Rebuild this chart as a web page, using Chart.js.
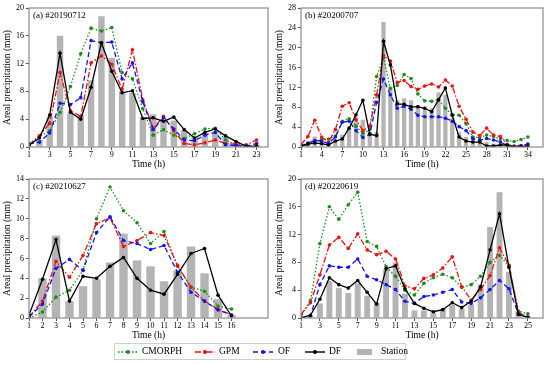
<!DOCTYPE html>
<html>
<head>
<meta charset="utf-8">
<script src="https://cdn.jsdelivr.net/npm/chart.js@4.4.1/dist/chart.umd.min.js"></script>
<style>
    body { margin: 0; background: #fff; }
    #wrap { position: relative; width: 550px; height: 365px; overflow: hidden; font-family: "Liberation Serif", "Times New Roman", serif; }
    canvas { position: absolute; }
    #legend { position: absolute; left: 114px; top: 343px; width: 292px; height: 17px; border: 1px solid #cfcfcf; box-sizing: border-box; font-size: 9.5px; color: #000; }
    #legend span { position: absolute; top: 0; line-height: 15px; }
    #legend svg { position: absolute; top: 4px; }
</style>
</head>
<body>
<div id="wrap">
    <canvas id="chartA" width="275" height="172" style="left:0;top:0"></canvas>
    <canvas id="chartB" width="275" height="172" style="left:272px;top:0"></canvas>
    <canvas id="chartC" width="275" height="172" style="left:0;top:171px"></canvas>
    <canvas id="chartD" width="275" height="172" style="left:272px;top:171px"></canvas>

    <div id="legend">
        <svg width="20" height="8" style="left:3px"><line x1="0" y1="4" x2="20" y2="4" stroke="#1c8c1c" stroke-width="1.4" stroke-dasharray="1.5,2"/><circle cx="10" cy="4" r="2" fill="#1c8c1c"/></svg>
        <span style="left:27px">CMORPH</span>
        <svg width="20" height="8" style="left:80px"><line x1="0" y1="4" x2="20" y2="4" stroke="#f01010" stroke-width="1.4" stroke-dasharray="6,2,1.5,2"/><circle cx="10" cy="4" r="2" fill="#f01010"/></svg>
        <span style="left:104px">GPM</span>
        <svg width="20" height="8" style="left:138px"><line x1="0" y1="4" x2="20" y2="4" stroke="#1414f0" stroke-width="1.4" stroke-dasharray="5,3"/><circle cx="10" cy="4" r="2" fill="#1414f0"/></svg>
        <span style="left:163px">OF</span>
        <svg width="20" height="8" style="left:190px"><line x1="0" y1="4" x2="20" y2="4" stroke="#000" stroke-width="1.4"/><circle cx="10" cy="4" r="2" fill="#000"/></svg>
        <span style="left:214px">DF</span>
        <svg width="16" height="8" style="left:242px"><rect x="0" y="1" width="15" height="6" fill="#b4b4b4"/></svg>
        <span style="left:266px">Station</span>
    </div>
</div>

<script>
// (a) #20190712
const hoursA = [1, 2, 3, 4, 5, 6, 7, 8, 9, 10, 11, 12, 13, 14, 15, 16, 17, 18, 19, 20, 21, 22, 23];
const xTicksA = [1, 3, 5, 7, 9, 11, 13, 15, 17, 19, 21, 23];
const yTicksA = [0, 4, 8, 12, 16, 20];
const stationA = [0.2, 1.0, 4.4, 16.0, 4.8, 4.6, 9.6, 18.8, 12.8, 8.0, 7.8, 4.3, 4.7, 3.9, 3.8, 2.4, 1.4, 2.0, 2.1, 1.4, 0.7, 0.4, 0.3];
const cmorphA = [0.5, 1.5, 2.3, 5.0, 8.7, 13.4, 17.1, 16.7, 17.2, 10.7, 9.8, 5.5, 1.7, 2.5, 1.7, 1.2, 1.9, 2.6, 2.7, 1.0, 0.3, 0.1, 0.2];
const gpmA = [0.3, 1.6, 3.4, 10.7, 5.2, 4.4, 12.1, 13.1, 11.9, 8.3, 14.0, 6.8, 2.7, 4.4, 2.3, 0.5, 0.3, 0.6, 1.0, 0.5, 0.4, 0.3, 1.0];
const ofA = [0.4, 0.7, 2.0, 6.3, 6.1, 7.1, 15.3, 15.0, 15.1, 9.8, 12.1, 6.5, 2.5, 4.2, 2.6, 1.0, 0.9, 1.7, 2.1, 0.3, 0.2, 0.1, 0.5];
const dfA = [0.3, 1.3, 4.6, 13.5, 5.0, 4.0, 8.6, 15.0, 10.9, 7.8, 8.1, 4.1, 4.2, 3.7, 4.3, 2.5, 1.3, 2.1, 2.6, 1.6, 0.8, 0.1, 0.1];

// (b) #20200707
const hoursB = [1, 2, 3, 4, 5, 6, 7, 8, 9, 10, 11, 12, 13, 14, 15, 16, 17, 18, 19, 20, 21, 22, 23, 24, 25, 26, 27, 28, 29, 30, 31, 32, 33, 34];
const xTicksB = [1, 4, 7, 10, 13, 16, 19, 22, 25, 28, 31, 34];
const yTicksB = [0, 4, 8, 12, 16, 20, 24, 28];
const stationB = [0.2, 0.5, 2.1, 1.8, 1.0, 1.3, 2.5, 3.7, 6.1, 5.5, 3.0, 3.0, 25.2, 12.0, 9.4, 9.8, 9.4, 8.4, 7.5, 7.8, 11.0, 10.5, 5.8, 3.0, 2.0, 1.7, 1.3, 1.0, 0.7, 0.5, 0.3, 0.2, 0.2, 0.2];
const cmorphB = [0.2, 0.5, 1.1, 1.5, 1.6, 2.2, 5.2, 5.7, 4.2, 2.7, 3.5, 14.2, 18.0, 11.8, 12.4, 14.6, 13.8, 10.7, 9.3, 9.2, 9.5, 7.8, 6.5, 6.4, 4.7, 2.0, 1.9, 2.4, 2.1, 1.6, 1.3, 1.1, 1.5, 2.0];
const gpmB = [0.5, 2.1, 5.4, 2.0, 1.0, 3.5, 8.2, 8.9, 5.5, 3.3, 4.2, 10.5, 18.4, 17.3, 13.0, 13.4, 12.2, 11.6, 12.3, 12.7, 12.1, 13.5, 12.3, 8.2, 5.6, 3.0, 2.3, 3.8, 2.4, 2.1, 0.5, 0.2, 0.3, 0.5];
const ofB = [0.2, 0.8, 1.3, 1.2, 0.7, 2.0, 5.0, 5.2, 3.3, 1.9, 2.5, 9.0, 13.7, 10.5, 7.8, 8.2, 7.6, 6.4, 6.1, 6.1, 6.1, 5.8, 5.2, 4.1, 3.3, 1.7, 1.4, 1.7, 1.4, 1.0, 0.3, 0.1, 0.2, 0.6];
const dfB = [0.2, 0.6, 0.8, 0.7, 0.4, 1.2, 1.6, 3.8, 6.5, 9.4, 2.6, 2.3, 21.3, 16.5, 8.7, 8.6, 8.1, 8.1, 7.8, 7.1, 9.5, 11.9, 6.4, 2.0, 1.2, 1.0, 1.0, 0.2, 0.2, 0.4, 0.4, 0.0, 0.1, 0.1];

// (c) #20210627
const hoursC = [1, 2, 3, 4, 5, 6, 7, 8, 9, 10, 11, 12, 13, 14, 15, 16];
const xTicksC = [1, 2, 3, 4, 5, 6, 7, 8, 9, 10, 11, 12, 13, 14, 15, 16];
const yTicksC = [0, 2, 4, 6, 8, 10, 12, 14];
const stationC = [0, 4.0, 8.3, 1.7, 3.2, 3.9, 5.6, 8.5, 5.8, 5.2, 3.7, 4.8, 7.2, 4.5, 1.9, 0.3];
const cmorphC = [0.0, 0.6, 2.1, 2.8, 4.8, 10.0, 13.2, 10.8, 9.6, 7.5, 8.7, 5.2, 3.1, 2.7, 1.2, 0.9];
const gpmC = [0.1, 1.7, 5.7, 4.1, 6.3, 9.5, 10.1, 7.2, 7.8, 8.6, 8.3, 5.3, 3.1, 1.7, 0.9, 0.3];
const ofC = [0.1, 1.4, 5.0, 5.9, 4.8, 8.6, 10.2, 7.8, 7.5, 6.9, 7.3, 4.6, 2.6, 1.7, 0.8, 0.3];
const dfC = [0.3, 3.9, 7.9, 1.7, 4.2, 4.0, 5.2, 6.1, 4.0, 2.8, 2.4, 4.4, 6.5, 7.0, 2.3, 0.2];

// (d) #20220619
const hoursD = [1, 2, 3, 4, 5, 6, 7, 8, 9, 10, 11, 12, 13, 14, 15, 16, 17, 18, 19, 20, 21, 22, 23, 24, 25];
const xTicksD = [1, 3, 5, 7, 9, 11, 13, 15, 17, 19, 21, 23, 25];
const yTicksD = [0, 4, 8, 12, 16, 20];
const stationD = [0, 0.3, 2.1, 5.3, 4.3, 3.6, 5.0, 3.2, 2.2, 7.0, 8.0, 3.5, 1.1, 1.1, 0.8, 1.3, 1.9, 1.3, 1.9, 4.8, 13.1, 18.1, 6.6, 1.0, 0.2];
const cmorphD = [0.5, 2.5, 10.7, 16.0, 14.2, 16.3, 18.1, 11.0, 10.3, 7.4, 6.0, 4.0, 3.3, 5.0, 5.8, 6.3, 5.8, 4.4, 4.8, 6.0, 8.0, 9.0, 7.5, 1.0, 0.6];
const gpmD = [0.5, 2.2, 6.2, 10.5, 11.6, 10.0, 12.1, 9.8, 9.1, 9.6, 8.5, 4.6, 4.2, 5.7, 6.2, 7.2, 8.8, 4.5, 2.6, 4.1, 6.1, 10.1, 7.6, 0.8, 0.1];
const ofD = [0.0, 0.3, 4.8, 7.5, 7.3, 7.3, 8.5, 6.0, 5.5, 4.8, 4.1, 2.4, 2.1, 3.1, 3.3, 3.7, 4.1, 2.3, 2.1, 2.9, 4.1, 5.4, 4.2, 0.6, 0.1];
const dfD = [0.0, 0.4, 2.7, 5.8, 4.8, 4.3, 5.4, 3.7, 2.0, 7.1, 7.5, 4.2, 2.1, 1.4, 0.9, 1.2, 2.2, 1.5, 2.4, 4.5, 9.8, 15.0, 7.3, 0.5, 0.1];

Chart.defaults.font.family = '"Liberation Serif", "Times New Roman", serif';
Chart.defaults.color = "#000";

// grey box round the plot + panel label in the corner
const framePlugin = {
    id: "frame",
    afterDatasetsDraw(chart, args, opts) {
        const { ctx, chartArea: a } = chart;
        ctx.save();
        ctx.strokeStyle = "#8a8a8a";
        ctx.lineWidth = 1.2;
        ctx.strokeRect(a.left, a.top, a.right - a.left, a.bottom - a.top);
        ctx.fillStyle = "#000";
        ctx.font = '9px "Liberation Serif", serif';
        ctx.textBaseline = "middle";
        ctx.fillText(opts.label, a.left + 4, a.top + 7.5);
        ctx.restore();
    }
};

function xy(hours, vals) {
    return hours.map((h, i) => ({ x: h, y: vals[i] }));
}

function lineSet(label, data, color, dash, order) {
    return {
        type: "line",
        label: label,
        data: data,
        borderColor: color,
        backgroundColor: color,
        borderWidth: 1.3,
        borderDash: dash,
        pointRadius: 1.8,
        pointBorderWidth: 0,
        tension: 0,
        order: order
    };
}

function makePanel(id, label, hours, xTicks, yTicks, xMax, padRight, station, cmorph, gpm, of, df) {

    new Chart(document.getElementById(id), {
        type: "bar",
        data: {
            datasets: [
                lineSet("CMORPH", xy(hours, cmorph), "#1c8c1c", [1.5, 2], 4),
                lineSet("GPM", xy(hours, gpm), "#f01010", [6, 2, 1.5, 2], 3),
                lineSet("OF", xy(hours, of), "#1414f0", [5, 3], 2),
                lineSet("DF", xy(hours, df), "#000000", [], 1),
                {
                    type: "bar",
                    label: "Station",
                    data: xy(hours, station),
                    backgroundColor: "#b4b4b4",
                    categoryPercentage: 0.8,
                    barPercentage: 0.78,
                    order: 5
                }
            ]
        },
        options: {
            responsive: false,
            animation: false,
            layout: { padding: { top: 8, right: padRight, left: 0, bottom: 0 } },
            plugins: {
                legend: { display: false },
                tooltip: { enabled: false },
                frame: { label: label }
            },
            scales: {
                x: {
                    type: "linear",
                    min: 1,
                    max: xMax,
                    offset: false,
                    afterBuildTicks: s => { s.ticks = xTicks.map(v => ({ value: v })); },
                    afterFit: s => { s.height = 25; },
                    grid: { drawOnChartArea: false, tickLength: 3, color: "#555", offset: false },
                    border: { display: false },
                    ticks: { font: { size: 8 }, padding: 0, maxRotation: 0, autoSkip: false },
                    title: { display: true, text: "Time (h)", font: { size: 9.5 }, padding: { top: 0, bottom: 2 } }
                },
                y: {
                    min: 0,
                    max: yTicks[yTicks.length - 1],
                    afterBuildTicks: s => { s.ticks = yTicks.map(v => ({ value: v })); },
                    afterFit: s => { s.width = 29; },
                    grid: { drawOnChartArea: false, tickLength: 3, color: "#555" },
                    border: { display: false },
                    ticks: { font: { size: 8 }, padding: 2 },
                    title: { display: true, text: "Areal precipitation (mm)", font: { size: 9.5 }, padding: { top: 2, bottom: 0 } }
                }
            }
        },
        plugins: [framePlugin]
    });
}

makePanel("chartA", "(a) #20190712", hoursA, xTicksA, yTicksA, 24.1, 7, stationA, cmorphA, gpmA, ofA, dfA);
makePanel("chartB", "(b) #20200707", hoursB, xTicksB, yTicksB, 36.2, 4, stationB, cmorphB, gpmB, ofB, dfB);
makePanel("chartC", "(c) #20210627", hoursC, xTicksC, yTicksC, 18.7, 7, stationC, cmorphC, gpmC, ofC, dfC);
makePanel("chartD", "(d) #20220619", hoursD, xTicksD, yTicksD, 26.6, 4, stationD, cmorphD, gpmD, ofD, dfD);
</script>
</body>
</html>
